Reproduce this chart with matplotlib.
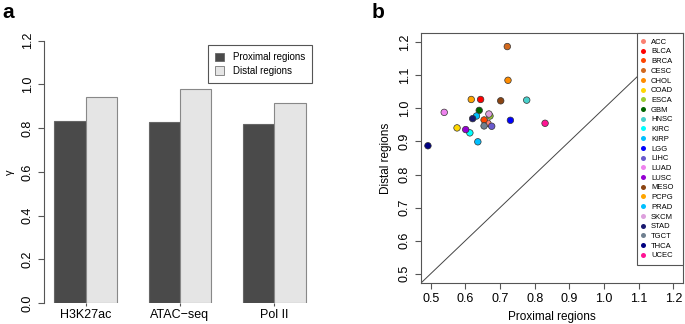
import matplotlib
matplotlib.use("Agg")
import matplotlib.pyplot as plt
from matplotlib.lines import Line2D
from matplotlib.patches import Patch

plt.rcParams['font.family'] = ['Liberation Sans', 'DejaVu Sans']

# panel a data
assays = ["H3K27ac", "ATAC\u2212seq", "Pol II"]
proximal_gamma = [0.834, 0.829, 0.819]
distal_gamma = [0.944, 0.977, 0.913]

# panel b data
cancers = ["ACC", "BLCA", "BRCA", "CESC", "CHOL", "COAD", "ESCA", "GBM",
           "HNSC", "KIRC", "KIRP", "LGG", "LIHC", "LUAD", "LUSC", "MESO",
           "PCPG", "PRAD", "SKCM", "STAD", "TGCT", "THCA", "UCEC"]
cancer_colors = ["salmon", "red", "orangered", "chocolate", "darkorange", "gold",
                 "yellowgreen", "darkgreen", "mediumturquoise", "cyan", "deepskyblue",
                 "blue", "slateblue", "violet", "darkviolet", "saddlebrown", "orange",
                 "deepskyblue", "plum", "midnightblue", "slategray", "navy", "deeppink"]
prox = [0.665, 0.644, 0.654, 0.721, 0.723, 0.576, 0.671, 0.640,
        0.777, 0.613, 0.636, 0.730, 0.676, 0.539, 0.601, 0.702,
        0.617, 0.632, 0.668, 0.621, 0.654, 0.492, 0.830]
dist = [0.955, 1.027, 0.965, 1.187, 1.085, 0.941, 0.977, 0.994,
        1.025, 0.926, 0.899, 0.964, 0.946, 0.988, 0.936, 1.023,
        1.027, 0.977, 0.983, 0.969, 0.947, 0.887, 0.955]

axis_col = "#555555"
W, H = 685, 324
fig = plt.figure(figsize=(W / 100, H / 100), dpi=100)

def box(x0, y0, x1, y1):
    return [x0 / W, 1 - y1 / H, (x1 - x0) / W, (y1 - y0) / H]

# ---- panel a ----
ax1 = fig.add_axes(box(44, 40.7, 316, 303))
centers = [2, 5, 8]
ax1.bar([c - 0.5 for c in centers], proximal_gamma, width=1, color="#4a4a4a",
        edgecolor="#666666", linewidth=0.8, label="Proximal regions")
ax1.bar([c + 0.5 for c in centers], distal_gamma, width=1, color="#e5e5e5",
        edgecolor="#888888", linewidth=0.8, label="Distal regions")
ax1.set_xlim(0.68, 9.32)
ax1.set_ylim(0, 1.2)
for s in ["top", "right", "bottom"]:
    ax1.spines[s].set_visible(False)
ax1.spines["left"].set_color(axis_col)
ax1.spines["left"].set_linewidth(0.8)
ax1.set_yticks([0, 0.2, 0.4, 0.6, 0.8, 1.0, 1.2])
ax1.set_yticklabels(["0.0", "0.2", "0.4", "0.6", "0.8", "1.0", "1.2"],
                    rotation=90, va="center")
ax1.set_xticks(centers)
ax1.set_xticklabels(assays)
ax1.tick_params(axis="both", labelsize=9, color=axis_col, width=0.8, length=4.3, pad=3)
ax1.tick_params(axis="x", length=2.5, pad=2)
ax1.set_ylabel("\u03b3", fontsize=8, labelpad=5)
leg1 = ax1.legend(handles=[Patch(facecolor="#4a4a4a", edgecolor="#666666", linewidth=0.6),
                           Patch(facecolor="#e5e5e5", edgecolor="#777777", linewidth=0.6)],
                  labels=["Proximal regions", "Distal regions"],
                  loc="upper right", bbox_to_anchor=(312 / W, 1 - 45 / H),
                  bbox_transform=fig.transFigure, borderaxespad=0, fontsize=7,
                  fancybox=False, handlelength=0.9, handleheight=0.9,
                  handletextpad=0.9, labelspacing=0.4, borderpad=0.72, framealpha=1)
leg1.get_frame().set_edgecolor(axis_col)
leg1.get_frame().set_linewidth(0.8)
fig.text(2 / W, 1 - 12 / H, "a", fontsize=15, fontweight="bold", va="center")

# ---- panel b ----
ax2 = fig.add_axes(box(421, 33, 683, 283))
ax2.set_xlim(0.472, 1.228)
ax2.set_ylim(0.472, 1.228)
ax2.plot([0, 2], [0, 2], color="#444444", linewidth=0.7)
ax2.scatter(prox, dist, s=22, c=cancer_colors, edgecolors="#333333",
            linewidths=0.5, zorder=3)
ticks = [0.5, 0.6, 0.7, 0.8, 0.9, 1.0, 1.1, 1.2]
ax2.set_xticks(ticks)
ax2.set_xticklabels(["%.1f" % t for t in ticks])
ax2.set_yticks(ticks)
ax2.set_yticklabels(["%.1f" % t for t in ticks], rotation=90, va="center")
for s in ax2.spines.values():
    s.set_color(axis_col)
    s.set_linewidth(0.8)
ax2.tick_params(axis="both", labelsize=9, color=axis_col, width=0.8, length=4.3, pad=3)
ax2.set_xlabel("Proximal regions", fontsize=8.5, labelpad=4)
ax2.set_ylabel("Distal regions", fontsize=8.5, labelpad=5)
handles = [Line2D([], [], marker="o", linestyle="", markersize=3.6,
                  markerfacecolor=c, markeredgewidth=0) for c in cancer_colors]
leg2 = ax2.legend(handles=handles, labels=cancers, loc="upper right",
                  bbox_to_anchor=(216 / 262, 0, 46 / 262, 1), mode="expand",
                  borderaxespad=0, fontsize=5.5, fancybox=False,
                  handlelength=0.2, handletextpad=0.94, labelspacing=0.31,
                  borderpad=0.7, framealpha=1)
leg2.get_frame().set_edgecolor(axis_col)
leg2.get_frame().set_linewidth(0.8)
fig.text(372 / W, 1 - 12 / H, "b", fontsize=15, fontweight="bold", va="center")

fig.savefig("out.png", dpi=100)
